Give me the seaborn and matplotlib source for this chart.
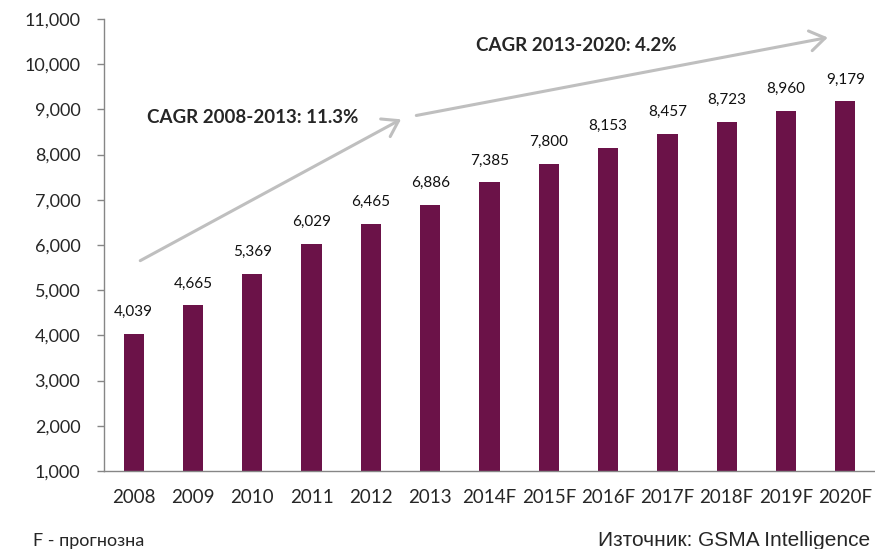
import matplotlib
matplotlib.use("Agg")
import matplotlib.pyplot as plt
import seaborn as sns
import pandas as pd

years = ["2008", "2009", "2010", "2011", "2012", "2013", "2014F", "2015F",
         "2016F", "2017F", "2018F", "2019F", "2020F"]
values = [4039, 4665, 5369, 6029, 6465, 6886, 7385, 7800, 8153, 8457, 8723, 8960, 9179]
cagr_labels = ["CAGR 2008-2013: 11.3%", "CAGR 2013-2020: 4.2%"]
footnote = "F - прогнозна"
source = "Източник: GSMA Intelligence"

sns.set_theme(style="white")
plt.rcParams['font.family'] = ['Lato', 'DejaVu Sans']

df = pd.DataFrame({"year": years, "value": values})

W, H = 875, 549
fig = plt.figure(figsize=(W / 100, H / 100), dpi=100)
ax = fig.add_axes([104 / W, 1 - 471 / H, (W - 104) / W, (471 - 19) / H])

bar_color = "#6B1248"
sns.barplot(data=df, x="year", y="value", color=bar_color, width=0.34,
            saturation=1, ax=ax, edgecolor="none")

ax.set_ylim(1000, 11000)
ax.set_xlim(-0.5, 12.45)
ax.set_yticks(range(1000, 11001, 1000))
ax.set_yticklabels([f"{v:,}" for v in range(1000, 11001, 1000)], fontsize=13)
ax.set_xlabel("")
ax.set_ylabel("")

# x ticks at category boundaries
ax.set_xticks(range(len(years)))
ax.set_xticklabels(years, fontsize=13.5)
ax.tick_params(axis="x", length=0, pad=13)
ax.set_xticks([i - 0.5 for i in range(len(years) + 1)], minor=True)
ax.tick_params(axis="x", which="minor", length=5, color="#868686", width=1, direction="out")
ax.tick_params(axis="y", length=5, color="#868686", width=1, direction="out", left=True, pad=12)

for s in ["top", "right"]:
    ax.spines[s].set_visible(False)
for s in ["left", "bottom"]:
    ax.spines[s].set_color("#868686")
    ax.spines[s].set_linewidth(1)

for i, v in enumerate(values):
    ax.text(i, v + 330, f"{v:,}", ha="center", va="bottom", fontsize=11, color="#111111")

arrow_kw = dict(arrowstyle="->,head_length=0.9,head_width=0.6", color="#BFBFBF", lw=2.2)
ax.annotate("", xy=(4.55, 8810), xytext=(0.07, 5624), arrowprops=arrow_kw, annotation_clip=False)
ax.annotate("", xy=(11.75, 10602), xytext=(4.72, 8854), arrowprops=arrow_kw, annotation_clip=False)

ax.text(0.23, 8830, cagr_labels[0], ha="left", va="center", fontsize=13.5, fontweight="bold")
ax.text(5.78, 10420, cagr_labels[1], ha="left", va="center", fontsize=13.5, fontweight="bold")

fig.text(33 / W, 1 - 541 / H, footnote, ha="left", va="center", fontsize=13)
fig.text(870 / W, 1 - 540 / H, source, ha="right", va="center", fontsize=15,
         family=["Liberation Sans", "DejaVu Sans"])

fig.savefig("out.png", dpi=100)
